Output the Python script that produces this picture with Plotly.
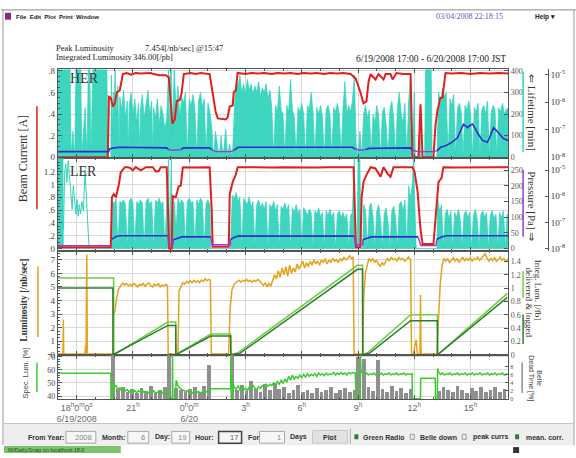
import plotly.graph_objects as go

W, H = 576, 458
SERIF = "Liberation Serif"
SANS = "Liberation Sans"
AX = "#555555"
GRID = "#dadada"

CYAN = "#2fd3bb"
CYAN_FILL = "rgba(47,211,187,0.92)"
RED = "#e0201c"
BLUE = "#3030c8"
PURPLE = "#9a3ad0"
ORANGE = "#e6a21e"
LGREEN = "#6ccf45"
DGREEN = "#2c7d2c"
SGREEN = "#3acb2e"
GRAY = "#8f8f8f"

# ---------------- data (time = hours after 2008-06-19 17:00 JST) ----------------
her_current = [
    (0.00, 0.0), (2.66, 0.0), (2.72, 0.56), (2.82, 0.55), (2.93, 0.47), (3.04, 0.50), (3.14, 0.60),
    (3.30, 0.62), (3.46, 0.77), (3.67, 0.78), (3.89, 0.765), (4.15, 0.78), (4.42, 0.775), (4.69, 0.78),
    (4.95, 0.78), (5.11, 0.77), (5.38, 0.76), (5.75, 0.76), (5.91, 0.74), (6.02, 0.50), (6.10, 0.31),
    (6.23, 0.35), (6.34, 0.52), (6.50, 0.53), (6.60, 0.60), (6.71, 0.77), (7.08, 0.78), (7.35, 0.77),
    (7.61, 0.78), (8.09, 0.77), (8.25, 0.60), (8.41, 0.42), (8.52, 0.36), (8.95, 0.35), (9.05, 0.37),
    (9.16, 0.47), (9.32, 0.48), (9.37, 0.60), (9.48, 0.62), (9.58, 0.78), (10.0, 0.77), (10.3, 0.78),
    (10.7, 0.775), (11.0, 0.78), (11.4, 0.77), (11.7, 0.78), (12.1, 0.775), (12.4, 0.78), (12.8, 0.77),
    (13.1, 0.78), (13.5, 0.775), (13.8, 0.78), (14.2, 0.77), (14.5, 0.78), (14.9, 0.775), (15.2, 0.78),
    (15.60, 0.77), (15.87, 0.73), (16.13, 0.60), (16.29, 0.50), (16.45, 0.52), (16.56, 0.70),
    (16.67, 0.77), (16.93, 0.72), (17.09, 0.77), (17.36, 0.72), (17.47, 0.77), (17.73, 0.77),
    (17.84, 0.72), (18.05, 0.78), (18.4, 0.77), (18.80, 0.77), (18.85, 0.40), (18.90, 0.0),
    (19.22, 0.0), (19.33, 0.49), (19.44, 0.0), (20.02, 0.0), (20.13, 0.30), (20.23, 0.43),
    (20.39, 0.55), (20.50, 0.55), (20.66, 0.78), (21.0, 0.775), (21.5, 0.78), (22.0, 0.77),
    (22.5, 0.78), (23.0, 0.775), (23.5, 0.78), (24.0, 0.775),
]

her_lifetime = [
    (0.00, 405), (0.65, 405), (0.70, 0), (0.80, 120), (0.90, 0), (0.96, 405), (1.22, 405), (1.27, 0),
    (1.45, 230), (1.55, 0), (1.62, 405), (1.70, 405), (1.76, 0), (1.86, 405), (2.61, 405), (2.66, 0),
    (2.82, 0), (2.85, 380), (2.90, 120), (2.95, 300), (3.00, 260), (3.05, 405), (3.10, 200), (3.20, 330),
    (3.25, 0), (3.30, 280), (3.40, 220), (3.50, 310), (3.60, 180), (3.70, 260), (3.75, 0), (3.80, 240),
    (3.90, 300), (4.00, 200), (4.10, 270), (4.20, 160), (4.30, 250), (4.35, 0), (4.40, 220), (4.50, 290),
    (4.60, 180), (4.70, 240), (4.80, 310), (4.90, 200), (5.00, 260), (5.05, 0), (5.10, 230), (5.20, 180),
    (5.30, 270), (5.40, 150), (5.50, 240), (5.60, 200), (5.70, 130), (5.80, 180), (5.90, 405),
    (5.95, 60), (6.00, 405), (6.05, 405), (6.10, 100), (6.20, 405), (6.30, 220), (6.40, 330),
    (6.50, 180), (6.60, 280), (6.70, 250), (6.80, 300), (6.90, 0), (7.00, 270), (7.10, 240),
    (7.20, 290), (7.30, 230), (7.40, 0), (7.50, 260), (7.60, 300), (7.70, 230), (7.80, 270), (7.90, 0),
    (8.00, 250), (8.10, 210), (8.20, 140), (8.30, 0), (8.40, 120), (8.50, 60), (8.60, 0), (8.70, 100),
    (8.80, 0), (8.95, 130), (9.05, 0), (9.15, 60), (9.30, 0), (9.45, 300), (9.55, 350), (9.60, 320),
    (9.70, 380), (9.80, 300), (9.90, 340), (10.00, 290), (10.10, 360), (10.20, 310), (10.30, 340),
    (10.40, 290), (10.50, 330), (10.60, 300), (10.70, 350), (10.80, 280), (10.90, 320), (11.00, 300),
    (11.10, 340), (11.20, 270), (11.30, 310), (11.40, 230), (11.50, 0), (11.60, 240), (11.70, 210),
    (11.80, 330), (11.90, 220), (12.00, 200), (12.10, 0), (12.20, 240), (12.30, 210), (12.40, 360),
    (12.50, 220), (12.60, 190), (12.70, 0), (12.80, 230), (12.90, 210), (13.00, 250), (13.10, 200),
    (13.20, 0), (13.30, 240), (13.40, 220), (13.50, 300), (13.60, 210), (13.70, 0), (13.80, 230),
    (13.90, 200), (14.00, 240), (14.10, 190), (14.20, 0), (14.30, 220), (14.40, 240), (14.50, 200),
    (14.60, 0), (14.70, 230), (14.80, 210), (14.90, 250), (15.00, 200), (15.10, 0), (15.20, 230),
    (15.30, 350), (15.40, 200), (15.50, 240), (15.60, 210), (15.70, 260), (15.80, 380), (15.90, 60),
    (16.00, 0), (16.10, 120), (16.20, 0), (16.30, 200), (16.40, 240), (16.50, 180), (16.60, 220),
    (16.70, 0), (16.80, 200), (16.90, 160), (17.00, 240), (17.10, 190), (17.20, 0), (17.30, 210),
    (17.40, 230), (17.50, 150), (17.60, 0), (17.70, 220), (17.80, 260), (17.90, 180), (18.00, 0),
    (18.10, 230), (18.20, 300), (18.30, 200), (18.40, 160), (18.50, 250), (18.60, 0), (18.70, 260),
    (18.80, 380), (18.90, 0), (19.00, 300), (19.05, 0), (19.20, 0), (19.30, 150), (19.35, 0),
    (19.55, 0), (19.60, 405), (19.90, 405), (19.95, 0), (20.20, 0), (20.30, 300), (20.40, 240),
    (20.50, 320), (20.60, 280), (20.70, 300), (20.80, 0), (20.90, 270), (21.00, 240), (21.10, 290),
    (21.20, 0), (21.30, 230), (21.40, 250), (21.50, 210), (21.60, 0), (21.70, 240), (21.80, 220),
    (21.90, 260), (22.00, 200), (22.10, 0), (22.20, 230), (22.30, 210), (22.40, 250), (22.50, 0),
    (22.60, 220), (22.70, 240), (22.80, 200), (22.90, 260), (23.00, 0), (23.10, 210), (23.20, 240),
    (23.30, 220), (23.40, 0), (23.50, 230), (23.60, 210), (23.70, 250), (23.80, 200), (23.90, 220),
    (24.00, 230),
]

her_pressure = [
    (0.00, 1.6e-8), (2.70, 1.6e-8), (2.75, 2.0e-8), (3.00, 2.2e-8), (3.30, 2.3e-8), (5.80, 2.2e-8),
    (5.90, 1.9e-8), None, (6.55, 1.9e-8), (6.70, 2.2e-8), (8.10, 2.2e-8), (8.20, 1.9e-8), None,
    (9.40, 1.8e-8), (9.60, 2.3e-8), (15.70, 2.3e-8), (15.85, 2.0e-8), None, (16.40, 1.9e-8),
    (16.60, 2.1e-8), (18.80, 2.2e-8), (18.88, 1.8e-8), None, (20.20, 1.7e-8), (20.40, 2.3e-8),
    (20.66, 2.6e-8), (21.00, 3.5e-8), (21.30, 5.1e-8), (21.50, 1.0e-7), (21.62, 1.6e-7),
    (21.73, 1.4e-7), (21.83, 1.2e-7), (21.95, 1.4e-7), (22.10, 1.6e-7), (22.25, 1.1e-7),
    (22.40, 7.0e-8), (22.63, 4.1e-8), (22.90, 3.5e-8), (23.05, 6.0e-8), (23.22, 1.2e-7),
    (23.40, 9.0e-8), (23.60, 6.0e-8), (23.75, 4.8e-8), (24.00, 4.1e-8),
]
her_pressure_off = [
    (5.90, 1.9e-8), (6.10, 1.8e-8), (6.55, 1.9e-8), None,
    (8.20, 1.9e-8), (8.40, 1.6e-8), (9.20, 1.6e-8), (9.40, 1.8e-8), None,
    (15.85, 2.0e-8), (16.10, 1.8e-8), (16.40, 1.9e-8), None,
    (18.88, 1.8e-8), (19.20, 1.6e-8), (20.00, 1.6e-8), (20.20, 1.7e-8),
]

ler_current = [
    (0.00, 0.02), (2.82, 0.02), (2.88, 0.80), (2.98, 0.85), (3.09, 0.80), (3.25, 1.00), (3.35, 1.19),
    (3.57, 1.27), (3.73, 1.27), (3.89, 1.25), (3.99, 1.22), (4.15, 1.27), (4.42, 1.22), (4.69, 1.27),
    (5.06, 1.27), (5.22, 1.20), (5.38, 1.21), (5.48, 1.27), (5.80, 1.27), (5.88, 0.50), (5.93, 0.0),
    (6.07, 0.0), (6.12, 0.82), (6.28, 0.80), (6.44, 0.97), (6.55, 0.98), (6.66, 1.27), (7.2, 1.265),
    (7.6, 1.27), (8.09, 1.27), (8.20, 0.60), (8.25, 0.03), (9.11, 0.03), (9.16, 0.85), (9.32, 1.04),
    (9.48, 1.15), (9.58, 1.27), (10.2, 1.265), (10.8, 1.27), (11.4, 1.265), (12.0, 1.27), (12.6, 1.265),
    (13.2, 1.27), (13.8, 1.265), (14.4, 1.27), (15.0, 1.265), (15.76, 1.27), (15.84, 0.50),
    (15.89, 0.02), (16.13, 0.02), (16.19, 0.80), (16.29, 1.04), (16.45, 1.15), (16.67, 1.27),
    (16.93, 1.25), (17.20, 1.12), (17.36, 1.27), (17.57, 1.17), (17.73, 1.12), (17.89, 1.27),
    (18.90, 1.27), (19.01, 1.20), (19.17, 0.90), (19.33, 0.30), (19.44, 0.07), (20.02, 0.07),
    (20.13, 0.50), (20.29, 1.04), (20.45, 1.10), (20.55, 1.27), (21.2, 1.265), (21.9, 1.27),
    (22.6, 1.265), (23.3, 1.27), (24.0, 1.27),
]

ler_lifetime = [
    (0.00, 287), (0.27, 287), (0.29, 0), (2.86, 0), (2.88, 0), (2.93, 150), (3.00, 140), (3.10, 160),
    (3.20, 0), (3.30, 150), (3.40, 145), (3.50, 155), (3.60, 140), (3.70, 0), (3.80, 150), (3.90, 160),
    (4.00, 145), (4.10, 0), (4.20, 150), (4.30, 140), (4.40, 155), (4.50, 145), (4.60, 0), (4.70, 150),
    (4.80, 160), (4.90, 140), (5.00, 150), (5.10, 0), (5.20, 155), (5.30, 145), (5.40, 160), (5.50, 140),
    (5.60, 150), (5.70, 0), (5.80, 155), (5.90, 287), (5.95, 0), (6.05, 287), (6.10, 0), (6.20, 150),
    (6.30, 60), (6.40, 160), (6.50, 140), (6.60, 155), (6.70, 145), (6.80, 0), (6.90, 150), (7.00, 160),
    (7.10, 145), (7.20, 150), (7.30, 0), (7.40, 155), (7.50, 140), (7.60, 160), (7.70, 150), (7.80, 0),
    (7.90, 145), (8.00, 155), (8.10, 140), (8.15, 0), (9.20, 0), (9.30, 170), (9.40, 160), (9.50, 178),
    (9.60, 150), (9.70, 165), (9.80, 0), (9.90, 160), (10.00, 150), (10.10, 140), (10.20, 165),
    (10.30, 130), (10.40, 150), (10.50, 0), (10.60, 140), (10.70, 155), (10.80, 130), (10.90, 145),
    (11.00, 125), (11.10, 150), (11.20, 0), (11.30, 140), (11.40, 130), (11.50, 150), (11.60, 120),
    (11.70, 140), (11.80, 0), (11.90, 135), (12.00, 125), (12.10, 145), (12.20, 120), (12.30, 140),
    (12.40, 0), (12.50, 130), (12.60, 115), (12.70, 140), (12.80, 110), (12.90, 125), (13.00, 0),
    (13.10, 130), (13.20, 120), (13.30, 105), (13.40, 125), (13.50, 115), (13.60, 0), (13.70, 120),
    (13.80, 110), (13.90, 130), (14.00, 100), (14.10, 115), (14.20, 0), (14.30, 120), (14.40, 105),
    (14.50, 125), (14.60, 100), (14.70, 115), (14.80, 0), (14.90, 110), (15.00, 120), (15.10, 100),
    (15.20, 115), (15.30, 95), (15.40, 110), (15.50, 0), (15.60, 105), (15.70, 115), (15.80, 287),
    (15.85, 0), (15.95, 0), (16.00, 287), (16.10, 287), (16.15, 0), (16.25, 0), (16.30, 140),
    (16.40, 120), (16.50, 0), (16.60, 130), (16.70, 145), (16.80, 100), (16.90, 0), (17.00, 120),
    (17.10, 140), (17.20, 90), (17.30, 0), (17.40, 110), (17.50, 130), (17.60, 80), (17.70, 0),
    (17.80, 120), (17.90, 135), (18.00, 100), (18.10, 0), (18.20, 140), (18.30, 150), (18.40, 120),
    (18.50, 155), (18.60, 0), (18.70, 200), (18.80, 160), (18.90, 210), (18.95, 287), (19.05, 120),
    (19.10, 0), (20.20, 0), (20.25, 156), (20.35, 120), (20.45, 140), (20.55, 0), (20.65, 110),
    (20.75, 125), (20.85, 95), (20.95, 120), (21.05, 0), (21.15, 115), (21.25, 100), (21.35, 125),
    (21.45, 90), (21.55, 0), (21.65, 110), (21.75, 120), (21.85, 100), (21.95, 115), (22.05, 0),
    (22.15, 105), (22.25, 125), (22.35, 95), (22.45, 0), (22.55, 110), (22.65, 120), (22.75, 100),
    (22.85, 115), (22.95, 0), (23.05, 105), (23.15, 120), (23.25, 95), (23.35, 110), (23.45, 0),
    (23.55, 115), (23.65, 100), (23.75, 120), (23.85, 0), (23.95, 110), (24.00, 105),
]
ler_lifetime_nobeam = [
    (0.30, 60), (0.36, 240), (0.42, 270), (0.48, 210), (0.55, 280), (0.62, 230), (0.70, 180),
    (0.76, 125), (0.82, 200), (0.90, 150), (0.96, 110), (1.02, 156), (1.08, 103), (1.14, 140),
    (1.20, 110), (1.28, 150), (1.36, 120), (1.45, 250), (1.52, 180), (1.60, 60), (1.66, 0),
]

ler_pressure = [
    (2.88, 2.3e-8), (3.10, 2.9e-8), (3.30, 3.1e-8), (5.86, 3.1e-8), None,
    (6.15, 2.2e-8), (6.40, 2.6e-8), (6.60, 2.8e-8), (8.15, 2.8e-8), None,
    (9.20, 2.2e-8), (9.40, 2.7e-8), (9.60, 3.0e-8), (15.80, 3.0e-8), None,
    (16.25, 2.2e-8), (16.50, 2.6e-8), (16.70, 2.8e-8), (19.20, 2.8e-8), None,
    (20.20, 2.3e-8), (20.45, 2.8e-8), (20.70, 3.1e-8), (24.00, 3.1e-8),
]
ler_pressure_off = [
    (0.00, 1.3e-8), (2.88, 1.3e-8), None,
    (5.86, 3.1e-8), (5.90, 1.4e-8), (6.15, 1.5e-8), (6.15, 2.2e-8), None,
    (8.15, 2.8e-8), (8.22, 1.4e-8), (9.20, 1.4e-8), (9.20, 2.2e-8), None,
    (15.80, 3.0e-8), (15.86, 1.4e-8), (16.25, 1.4e-8), (16.25, 2.2e-8), None,
    (19.20, 2.8e-8), (19.35, 1.3e-8), (20.15, 1.3e-8), (20.20, 2.3e-8),
]

luminosity = [
    (0.00, 0.05), (0.27, 0.05), (0.29, 2.6), (0.31, 0.05), (1.44, 0.05), (1.47, 0.7), (1.50, 0.05),
    (1.54, 7.40), (1.57, 0.05), (2.93, 0.05), (2.97, 3.0), (3.04, 3.2), (3.12, 4.1), (3.22, 4.8),
    (3.35, 5.1), (3.45, 5.3), (3.55, 5.15), (3.65, 5.25), (3.75, 5.1), (3.85, 5.2), (3.95, 5.05),
    (4.05, 5.25), (4.15, 5.15), (4.25, 5.0), (4.35, 5.2), (4.45, 5.1), (4.55, 5.25), (4.65, 5.05),
    (4.75, 5.2), (4.85, 5.3), (4.95, 5.1), (5.05, 5.0), (5.15, 5.2), (5.25, 5.1), (5.35, 5.25),
    (5.45, 5.0), (5.55, 5.15), (5.65, 5.05), (5.75, 5.2), (5.84, 5.1), (5.88, 0.05), (6.40, 0.05),
    (6.46, 4.7), (6.55, 5.0), (6.65, 5.3), (6.75, 5.2), (6.85, 5.4), (6.95, 5.3), (7.05, 5.45),
    (7.15, 5.3), (7.25, 5.5), (7.35, 5.35), (7.45, 5.45), (7.55, 5.3), (7.65, 5.5), (7.75, 5.4),
    (7.85, 5.6), (7.95, 5.45), (8.05, 5.55), (8.13, 5.5), (8.18, 0.05), (9.10, 0.05), (9.18, 3.4),
    (9.28, 4.8), (9.40, 5.2), (9.55, 5.4), (9.65, 5.5), (9.75, 5.35), (9.85, 5.5), (9.95, 5.4),
    (10.05, 5.55), (10.15, 5.4), (10.25, 5.5), (10.35, 5.35), (10.45, 5.5), (10.55, 5.4),
    (10.65, 5.55), (10.75, 5.45), (10.85, 5.3), (10.95, 5.1), (11.05, 5.3), (11.15, 5.0),
    (11.25, 5.25), (11.35, 5.05), (11.45, 5.5), (11.55, 5.9), (11.65, 5.6), (11.75, 6.2),
    (11.85, 5.7), (11.95, 6.4), (12.05, 5.9), (12.15, 6.5), (12.25, 5.8), (12.35, 6.6), (12.45, 6.0),
    (12.55, 6.4), (12.65, 6.1), (12.75, 6.7), (12.85, 6.3), (12.95, 6.6), (13.05, 6.9), (13.15, 6.4),
    (13.25, 6.8), (13.35, 6.5), (13.45, 6.9), (13.55, 6.6), (13.65, 7.0), (13.75, 6.7), (13.85, 6.9),
    (13.95, 6.6), (14.05, 7.0), (14.15, 6.8), (14.25, 7.1), (14.35, 6.7), (14.45, 7.0), (14.55, 6.8),
    (14.65, 7.1), (14.75, 6.9), (14.85, 7.0), (14.95, 6.8), (15.05, 7.1), (15.15, 6.9), (15.25, 7.2),
    (15.35, 7.0), (15.45, 7.1), (15.55, 7.3), (15.65, 7.1), (15.74, 7.2), (15.79, 0.05),
    (16.24, 0.05), (16.30, 4.2), (16.40, 6.1), (16.50, 6.8), (16.58, 7.1), (16.68, 6.9),
    (16.78, 7.1), (16.88, 6.8), (16.98, 7.0), (17.08, 6.7), (17.18, 6.5), (17.28, 6.8), (17.38, 6.6),
    (17.48, 6.9), (17.58, 7.1), (17.68, 6.9), (17.78, 7.2), (17.88, 7.0), (17.98, 7.1), (18.08, 6.9),
    (18.18, 7.2), (18.28, 7.0), (18.38, 7.1), (18.48, 6.9), (18.58, 7.0), (18.68, 7.2), (18.80, 7.0),
    (18.85, 0.05), (18.96, 0.05), (19.02, 0.6), (19.10, 1.1), (19.16, 0.05), (19.30, 0.05),
    (19.33, 4.4), (19.36, 0.05), (20.20, 0.05), (20.28, 2.8), (20.38, 5.2), (20.48, 6.6),
    (20.58, 7.1), (20.68, 6.9), (20.78, 7.1), (20.88, 6.8), (20.98, 7.0), (21.08, 7.15), (21.18, 6.9),
    (21.28, 7.1), (21.38, 6.8), (21.48, 7.0), (21.58, 7.2), (21.68, 6.9), (21.78, 7.1), (21.88, 6.95),
    (21.98, 7.15), (22.08, 6.9), (22.18, 7.1), (22.28, 7.0), (22.38, 7.2), (22.48, 6.95), (22.58, 7.1),
    (22.68, 7.25), (22.78, 7.454), (22.88, 7.1), (22.98, 6.9), (23.08, 7.1), (23.18, 6.95),
    (23.28, 7.15), (23.38, 6.9), (23.48, 7.05), (23.58, 7.2), (23.68, 6.95), (23.78, 7.1),
    (23.88, 6.9), (23.98, 7.05),
]

integ_delivered = [
    (0.00, 1.15), (2.97, 1.15), (2.98, 0.0), (5.86, 0.49), (6.28, 0.49), (6.29, 0.0), (8.15, 0.31),
    (9.21, 0.31), (9.22, 0.0), (9.60, 0.03), (15.97, 1.34), (16.24, 1.34), (16.25, 0.0),
    (16.55, 0.04), (18.80, 0.60), (20.23, 0.60), (20.24, 0.0), (23.96, 0.92),
]
integ_logged = [
    (0.00, 1.00), (2.93, 1.00), (2.94, 0.0), (5.86, 0.44), (6.28, 0.44), (6.29, 0.0), (8.15, 0.28),
    (9.21, 0.28), (9.22, 0.0), (9.70, 0.02), (15.97, 1.28), (16.24, 1.28), (16.25, 0.0),
    (16.60, 0.02), (18.80, 0.51), (20.23, 0.51), (20.24, 0.0), (23.96, 0.86),
]

spec_lum = [
    (0.00, 57.3), (2.82, 57.3), (2.83, 38), (2.95, 38), (2.97, 51), (3.02, 47), (3.1, 48), (3.2, 45),
    (3.3, 46), (3.4, 44), (3.5, 45.5), (3.6, 44), (3.7, 45), (3.8, 43), (3.9, 44.5), (4.0, 43),
    (4.1, 44), (4.2, 42.5), (4.3, 44), (4.4, 43), (4.5, 44.5), (4.6, 42.5), (4.7, 43.5), (4.8, 42),
    (4.9, 43.5), (5.0, 42.5), (5.1, 44), (5.2, 42), (5.3, 43), (5.4, 42.5), (5.5, 44), (5.6, 42),
    (5.7, 43.5), (5.84, 43), (5.88, 38), (6.10, 38), (6.11, 71.5), (6.13, 38), (6.28, 38),
    (6.30, 52), (6.4, 48), (6.5, 46), (6.6, 45), (6.7, 44), (6.8, 43.5), (6.9, 44), (7.0, 42.5),
    (7.1, 43.5), (7.2, 42), (7.3, 43), (7.4, 42.5), (7.5, 43.5), (7.6, 42), (7.7, 43), (7.8, 42.5),
    (7.9, 43.5), (8.0, 42.5), (8.1, 43), (8.15, 45.5), (9.21, 45.5), (9.22, 71.5), (9.24, 38),
    (9.28, 38), (9.30, 51), (9.4, 47), (9.5, 45), (9.6, 48), (9.7, 45), (9.8, 47), (9.9, 44.5),
    (10.0, 46), (10.1, 44), (10.2, 47), (10.3, 45), (10.4, 48), (10.5, 46), (10.6, 44.5), (10.7, 47),
    (10.8, 46), (10.9, 48), (11.0, 47), (11.1, 49), (11.2, 47.5), (11.3, 49), (11.4, 48), (11.5, 50),
    (11.6, 48.5), (11.7, 51), (11.8, 49), (11.9, 52), (12.0, 50), (12.1, 53), (12.2, 50.5),
    (12.3, 55), (12.4, 52), (12.5, 56), (12.6, 53), (12.7, 55), (12.8, 53.5), (12.9, 56), (13.0, 54),
    (13.1, 56.5), (13.2, 54.5), (13.3, 57), (13.4, 55), (13.5, 56.5), (13.6, 55.5), (13.7, 57),
    (13.8, 55), (13.9, 57.5), (14.0, 56), (14.1, 57), (14.2, 55.5), (14.3, 57.5), (14.4, 56),
    (14.5, 57), (14.6, 56.5), (14.7, 58), (14.8, 56), (14.9, 57.5), (15.0, 56.5), (15.1, 58),
    (15.2, 56.5), (15.3, 57.5), (15.4, 56), (15.5, 58), (15.6, 57), (15.7, 58), (15.85, 57.5),
    (15.90, 38), (16.12, 38), (16.13, 71.5), (16.15, 60), (16.25, 57), (16.35, 56.5), (16.45, 57.5),
    (16.55, 56), (16.65, 57), (16.75, 56.5), (16.85, 57.5), (16.95, 56), (17.05, 57), (17.15, 56.5),
    (17.25, 57.5), (17.35, 56), (17.45, 57), (17.55, 56.5), (17.65, 57.5), (17.75, 56), (17.85, 57),
    (17.95, 56.5), (18.05, 57.5), (18.15, 56), (18.25, 57), (18.35, 56.5), (18.45, 57.5),
    (18.55, 56), (18.65, 57), (18.75, 56.5), (18.88, 57), (18.90, 38), (19.33, 38), (19.34, 53.5),
    (20.12, 53.5), (20.13, 38), (20.23, 38), (20.24, 61), (20.3, 58), (20.4, 56.5), (20.5, 57.5),
    (20.6, 56), (20.7, 57), (20.8, 56.5), (20.9, 57.5), (21.0, 56), (21.1, 57), (21.2, 56.5),
    (21.3, 57.5), (21.4, 56), (21.5, 57), (21.6, 56.5), (21.7, 57.5), (21.8, 56), (21.9, 57),
    (22.0, 56.5), (22.1, 57.5), (22.2, 56), (22.3, 57), (22.4, 56.5), (22.5, 57.5), (22.6, 56),
    (22.7, 57), (22.8, 56.5), (22.9, 57.5), (23.0, 56), (23.1, 57), (23.2, 56.5), (23.3, 57.5),
    (23.4, 56), (23.5, 57), (23.6, 56.5), (23.7, 57.5), (23.8, 56), (23.96, 57),
]

dead_time = [
    (2.95, 11.0), (3.20, 2.5), (3.45, 3.0), (3.70, 1.8), (3.95, 2.6), (4.20, 1.5), (4.45, 2.8),
    (4.70, 2.0), (4.95, 3.2), (5.20, 1.6), (5.45, 2.4), (5.70, 3.0), (5.90, 11.0), (6.30, 2.8),
    (6.55, 2.2), (6.80, 1.7), (7.05, 2.6), (7.30, 3.1), (7.55, 1.9), (7.80, 3.2), (8.05, 8.5),
    (9.30, 11.0), (9.55, 2.4), (9.80, 3.5), (10.05, 2.0), (10.30, 4.5), (10.55, 2.6), (10.80, 1.8),
    (11.05, 3.8), (11.30, 2.2), (11.55, 4.0), (11.80, 2.5), (12.05, 3.0), (12.30, 1.6), (12.55, 2.4),
    (12.80, 3.6), (13.05, 1.9), (13.30, 2.2), (13.55, 1.5), (13.80, 2.8), (14.05, 1.7), (14.30, 2.4),
    (14.55, 3.0), (14.80, 1.6), (15.05, 2.2), (15.30, 2.9), (15.55, 1.8), (15.80, 2.4), (16.00, 10.5),
    (16.30, 10.0), (16.55, 3.0), (16.80, 2.0), (17.05, 9.8), (17.30, 2.6), (17.55, 1.7), (17.80, 3.2),
    (18.05, 2.0), (18.30, 2.8), (18.55, 1.5), (18.80, 2.6), (20.30, 2.0), (20.55, 3.0), (20.80, 2.4),
    (21.05, 1.8), (21.30, 3.2), (21.55, 2.2), (21.80, 1.6), (22.05, 2.8), (22.30, 2.0), (22.55, 3.0),
    (22.80, 1.7), (23.05, 2.4), (23.30, 3.1), (23.55, 1.9), (23.80, 2.6),
]

hour_ticks = [1, 4, 7, 10, 13, 16, 19, 22]
hour_labels = [
    "18<sup>h</sup>0<sup>m</sup>0<sup>s</sup><br>6/19/2008", "21<sup>h</sup>",
    "0<sup>h</sup>0<sup>m</sup><br>6/20", "3<sup>h</sup>", "6<sup>h</sup>", "9<sup>h</sup>",
    "12<sup>h</sup>", "15<sup>h</sup>",
]
integrated_pb = 346.00


def xy(pairs):
    xs = [None if p is None else p[0] for p in pairs]
    ys = [None if p is None else p[1] for p in pairs]
    return xs, ys


def px(x):
    return x / W


def py(y):
    return 1 - y / H


peak_t, peak_val = max(luminosity, key=lambda p: p[1])
peak_min = int(round((17 + peak_t) * 60))
peak_clock = f"@{(peak_min // 60) % 24}:{peak_min % 60:02d}"

fig = go.Figure()


def line(pairs, xa, ya, color, width, **kw):
    xs, ys = xy(pairs)
    fig.add_trace(go.Scatter(x=xs, y=ys, xaxis=xa, yaxis=ya, mode="lines",
                             line=dict(color=color, width=width), hoverinfo="skip", **kw))


# HER panel
line(her_lifetime, "x", "y", CYAN, 0.7, fill="tozeroy", fillcolor=CYAN_FILL)
line(her_current, "x", "y2", RED, 2.0)
line(her_pressure, "x", "y3", BLUE, 1.6)
line(her_pressure_off, "x", "y3", PURPLE, 1.4)

# LER panel
line(ler_lifetime, "x2", "y4", CYAN, 0.7, fill="tozeroy", fillcolor=CYAN_FILL)
line(ler_lifetime_nobeam, "x2", "y4", CYAN, 1.0)
line(ler_current, "x2", "y5", RED, 2.0)
line(ler_pressure, "x2", "y6", BLUE, 1.6)
line(ler_pressure_off, "x2", "y6", PURPLE, 1.4)

# Luminosity panel
line(luminosity, "x3", "y7", ORANGE, 1.5)
line(integ_delivered, "x3", "y8", LGREEN, 1.5)
line(integ_logged, "x3", "y8", DGREEN, 1.5)

# Specific luminosity / dead time panel
dx, dy = xy(dead_time)
fig.add_trace(go.Bar(x=dx, y=dy, xaxis="x4", yaxis="y9", width=0.2,
                     marker=dict(color=GRAY, line=dict(width=0)), hoverinfo="skip"))
line(spec_lum, "x4", "y10", SGREEN, 1.5)

XD = [px(57), px(508)]
P1 = [py(158), py(67.5)]
P2 = [py(252), py(158)]
P3 = [py(358), py(252)]
P4 = [py(403), py(358)]

TICKFONT = dict(family=SERIF, size=9, color="#444")


def xax(anchor, labels=False):
    d = dict(domain=XD, anchor=anchor, range=[0, 24], tickmode="array", tickvals=hour_ticks,
             showgrid=True, gridcolor=GRID, gridwidth=1, zeroline=False, showline=True,
             linecolor=AX, linewidth=1, mirror="ticks", ticks="inside", ticklen=4, tickcolor=AX,
             minor=dict(tickmode="linear", tick0=0, dtick=1, ticks="inside", ticklen=2,
                        tickcolor=AX, showgrid=False),
             showticklabels=labels, fixedrange=True)
    if labels:
        d.update(ticktext=hour_labels, tickfont=dict(family=SANS, size=9, color="#6a6a6a"))
    return d


def yax(**kw):
    d = dict(showgrid=False, zeroline=False, showline=True, linecolor=AX, linewidth=1,
             ticks="inside", ticklen=4, tickcolor=AX, tickfont=TICKFONT, fixedrange=True)
    d.update(kw)
    return d


log_vals = [1e-8, 1e-7, 1e-6, 1e-5]
log_text = ["10<sup>-8</sup>", "10<sup>-7</sup>", "10<sup>-6</sup>", "10<sup>-5</sup>"]

layout_axes = dict(
    xaxis=xax("y"), xaxis2=xax("y4"), xaxis3=xax("y7"), xaxis4=xax("y9", labels=True),
    # HER
    yaxis=yax(domain=P1, anchor="x", side="right", range=[-4.5, 407],
              tickvals=[0, 100, 200, 300, 400], tickfont=dict(family=SERIF, size=8, color="#555")),
    yaxis2=yax(overlaying="y", anchor="x", side="left", range=[-0.009, 0.814],
               tickvals=[0, 0.2, 0.4, 0.6, 0.8], ticktext=["0", ".2", ".4", ".6", ".8"],
               showgrid=True, gridcolor=GRID,
               minor=dict(dtick=0.05, tick0=0, ticks="inside", ticklen=2, tickcolor=AX)),
    yaxis3=yax(overlaying="y", anchor="free", position=px(548), side="right", type="log",
               range=[-8.036, -4.80], tickvals=log_vals, ticktext=log_text, ticklen=3,
               tickfont=dict(family=SERIF, size=9, color="#333")),
    # LER
    yaxis4=yax(domain=P2, anchor="x2", side="right", range=[-6.25, 287.5],
               tickvals=[0, 50, 100, 150, 200, 250], tickfont=dict(family=SERIF, size=8, color="#555")),
    yaxis5=yax(overlaying="y4", anchor="x2", side="left", range=[-0.031, 1.409],
               tickvals=[0, 0.2, 0.4, 0.6, 0.8, 1.0, 1.2],
               ticktext=["0", ".2", ".4", ".6", ".8", "1", "1.2"], showgrid=True, gridcolor=GRID,
               minor=dict(dtick=0.05, tick0=0, ticks="inside", ticklen=2, tickcolor=AX)),
    yaxis6=yax(overlaying="y4", anchor="free", position=px(548), side="right", type="log",
               range=[-8.075, -4.55], tickvals=log_vals, ticktext=log_text, ticklen=3,
               tickfont=dict(family=SERIF, size=9, color="#333")),
    # luminosity
    yaxis7=yax(domain=P3, anchor="x3", side="left", range=[0, 7.68],
               tickvals=[0, 1, 2, 3, 4, 5, 6, 7], showgrid=True, gridcolor=GRID,
               minor=dict(dtick=0.25, tick0=0, ticks="inside", ticklen=2, tickcolor=AX)),
    yaxis8=yax(overlaying="y7", anchor="x3", side="right", range=[0, 1.561],
               tickvals=[0, 0.2, 0.4, 0.6, 0.8, 1.0, 1.2, 1.4],
               ticktext=["0", "0.2", "0.4", "0.6", "0.8", "1", "1.2", "1.4"],
               tickfont=dict(family=SERIF, size=8, color="#555")),
    # spec lum / dead time
    yaxis9=yax(domain=P4, anchor="x4", side="right", range=[0, 11],
               tickvals=[0, 2, 4, 6, 8], tickfont=dict(family=SERIF, size=6, color="#555"),
               ticklen=3),
    yaxis10=yax(overlaying="y9", anchor="x4", side="left", range=[37.75, 71.5],
                tickvals=[40, 50, 60, 70], showgrid=True, gridcolor=GRID,
                tickfont=dict(family=SERIF, size=8, color="#444"),
                minor=dict(dtick=2, tick0=40, ticks="inside", ticklen=2, tickcolor=AX)),
)

ann = []


def txt(x, y, s, size=9, color="#222", xanchor="left", angle=0, family=SERIF, bold=False):
    if bold:
        s = f"<b>{s}</b>"
    ann.append(dict(x=px(x), y=py(y), xref="paper", yref="paper", text=s, showarrow=False,
                    xanchor=xanchor, yanchor="middle", textangle=angle,
                    font=dict(family=family, size=size, color=color)))


shapes = []


def rect(x0, y0, x1, y1, fill=None, color=None, width=1):
    shapes.append(dict(type="rect", xref="paper", yref="paper", x0=px(x0), x1=px(x1),
                       y0=py(y1), y1=py(y0), fillcolor=fill or "rgba(0,0,0,0)",
                       line=dict(color=color or "rgba(0,0,0,0)", width=width if color else 0),
                       layer="above"))


def seg(x0, y0, x1, y1, color, width=1.5):
    shapes.append(dict(type="line", xref="paper", yref="paper", x0=px(x0), x1=px(x1),
                       y0=py(y0), y1=py(y1), line=dict(color=color, width=width), layer="above"))


# window frame and menu bar
seg(0, 7, 576, 7, "#8a8a8a", 1)
seg(2, 7, 2, 450, "#9a9a9a", 1)
seg(574, 7, 574, 450, "#9a9a9a", 1)
rect(4, 10, 10, 17, fill="#8a2a7e")
txt(13, 14, "File  Edit  Plot  Print  Window", 6, "#222", family=SANS, bold=True)
txt(505, 14, "03/04/2008 22:18:15", 8, "#5a5ad0", xanchor="right")
txt(533, 14, "Help ▾", 6.5, "#222", family=SANS, bold=True)

# header
txt(53, 46, "Peak Luminosity", 8.5)
txt(142, 46, f"{peak_val:.3f}[/nb/sec] {peak_clock}", 8.5)
txt(53, 55, "Integrated Luminosity", 8.5)
txt(130, 55, f"{integrated_pb:.2f}[/pb]", 8.5)
txt(508, 57, "6/19/2008 17:00 - 6/20/2008 17:00 JST", 9.5, xanchor="right")

# panel labels
txt(67, 77, "HER", 14, "#333")
txt(67, 171, "LER", 14, "#333")

# left titles
txt(22, 158, "Beam Current [A]", 12, "#333", xanchor="center", angle=-90)
seg(36, 105, 36, 210, RED, 1.5)
txt(23, 302, "<b>Luminosity [/nb/sec]</b>", 9.5, "#333", xanchor="center", angle=-90)
seg(37, 268, 37, 340, ORANGE, 1.5)
txt(24, 376, "Spec. Lum. [%]", 7.5, "#444", xanchor="center", angle=-90, family=SANS)
seg(36, 366, 36, 396, SGREEN, 1.5)

# right titles
seg(523, 70, 523, 152, CYAN, 1.5)
txt(532, 111, "⇐ Lifetime [min]", 11, "#333", xanchor="center", angle=90)
seg(523, 170, 523, 238, PURPLE, 1.5)
txt(532, 207, "Pressure [Pa] ⇒", 11, "#333", xanchor="center", angle=90)
seg(523, 273, 523, 300, LGREEN, 1.5)
seg(523, 317, 523, 347, DGREEN, 1.5)
txt(538, 292, "Integ. Lum. [/fb]", 9, "#333", xanchor="center", angle=90)
txt(529, 305, "delivered &amp; logged", 9, "#333", xanchor="center", angle=90)
seg(522, 366, 522, 397, GRAY, 1.5)
txt(540, 382, "Belle", 7, "#444", xanchor="center", angle=90, family=SANS)
txt(531, 382, "Dead Time [%]", 7, "#444", xanchor="center", angle=90, family=SANS)

# control bar
rect(3, 428, 573, 450, fill="#eeeeee")
seg(3, 428, 573, 428, "#c4c4c4", 1)
BOX = "#a8a8a8"
txt(25, 442, "From Year:", 7, "#333", family=SANS, bold=True)
rect(65, 436, 95, 448, fill="#f6f6f6", color=BOX)
txt(93, 442, "2008", 7.5, "#888", xanchor="right", family=SANS)
txt(99, 442, "Month:", 7, "#333", family=SANS, bold=True)
rect(127, 436, 148, 448, fill="#f6f6f6", color=BOX)
txt(146, 442, "6", 7.5, "#888", xanchor="right", family=SANS)
txt(152, 442, "Day:", 7, "#333", family=SANS, bold=True)
rect(171, 436, 189, 448, fill="#f6f6f6", color=BOX)
txt(187, 442, "19", 7.5, "#888", xanchor="right", family=SANS)
txt(192, 442, "Hour:", 7, "#333", family=SANS, bold=True)
rect(218, 436, 241, 448, fill="#f6f6f6", color="#444", width=1.5)
txt(239, 442, "17", 7.5, "#666", xanchor="right", family=SANS)
txt(245, 442, "For", 7, "#333", family=SANS, bold=True)
rect(259, 436, 284, 448, fill="#f6f6f6", color=BOX)
txt(282, 442, "1", 7.5, "#888", xanchor="right", family=SANS)
txt(287, 442, "Days", 7, "#333", family=SANS, bold=True)
rect(312, 435, 347, 448, fill="#e2e2e2", color="#c8c8c8")
txt(329.5, 442, "Plot", 7, "#333", xanchor="center", family=SANS, bold=True)
seg(350, 433, 350, 449, "#b0b0b0", 1)
rect(354, 439, 358, 444, fill="#2f7d3a")
txt(361, 442, "Green Radio", 7, "#333", family=SANS, bold=True)
rect(410, 439, 414, 444, color="#999")
txt(418, 442, "Belle down", 7, "#333", family=SANS, bold=True)
rect(462, 439, 466, 444, color="#999")
txt(471, 442, "peak currs", 7, "#333", family=SANS, bold=True)
rect(515, 439, 519, 444, fill="#2f7d3a")
txt(524, 442, "mean. corr.", 7, "#333", family=SANS, bold=True)

# status bar
rect(3, 451, 120, 458, fill="#7cc46a")
txt(5, 454.5, "fill/Daily/Snap on localhost:18.0", 5.5, "#1d4d1d", family=SANS)
rect(513, 452, 519, 458, fill="#333333")

fig.update_layout(
    width=W, height=H, margin=dict(l=0, r=0, t=0, b=0),
    paper_bgcolor="white", plot_bgcolor="white", showlegend=False, hovermode=False,
    bargap=0, annotations=ann, shapes=shapes, font=dict(family=SERIF),
    **layout_axes,
)

fig.write_html("out.html")
